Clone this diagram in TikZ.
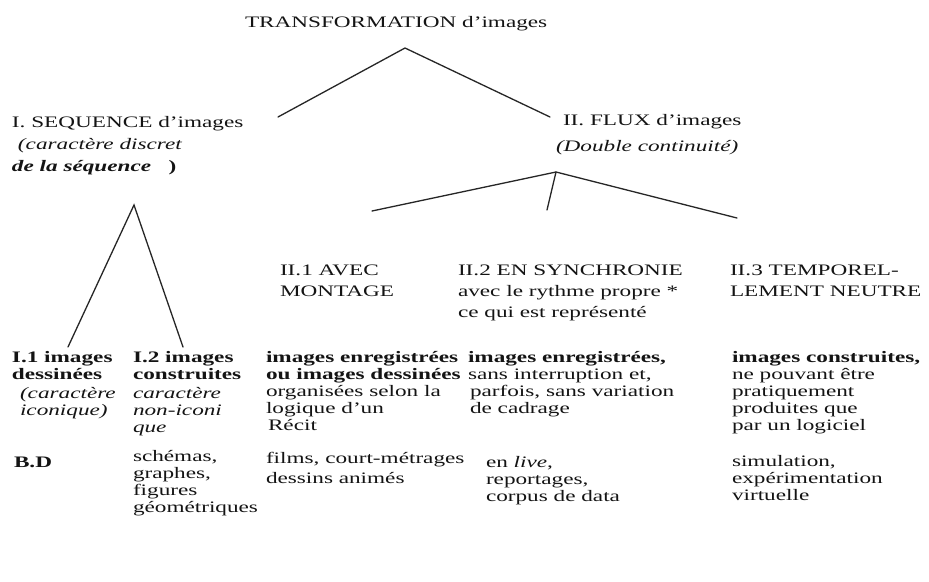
\documentclass[tikz,border=0pt]{standalone}
\usepackage{fontspec}
\setmainfont{Liberation Serif}[FakeStretch=1.45]
\newcommand{\blkA}[1]{\vtop{\baselineskip=17pt\lineskiplimit=-30pt #1}}
\newcommand{\blkB}[1]{\vtop{\baselineskip=21pt\lineskiplimit=-30pt #1}}
\newcommand{\blkC}[1]{\vtop{\baselineskip=20pt\lineskiplimit=-30pt #1}}
\begin{document}
\begin{tikzpicture}[x=1pt,y=-1pt,
  lbl/.style={anchor=base west, inner sep=0pt, outer sep=0pt, text=black!92, font=\fontsize{16}{17}\selectfont},
  conn/.style={draw=black!85, line width=1.3pt, line cap=round}]
\fill[white] (0,0) rectangle (929,581);
\useasboundingbox (0,0) rectangle (929,581);

% top level
\node[lbl] (title) at (245,27) {TRANSFORMATION d'images};
\node[lbl] (seq) at (12,127) {\blkC{\hbox{I. SEQUENCE d'images}\baselineskip=22pt\hbox{\kern6pt\itshape (caractère discret}\hbox{\bfseries\itshape de la séquence \ \ \upshape)}}};
\node[lbl] (flux) at (563,125) {I{}I. FLUX d'images};
\node[lbl] (fluxsub) at (556,151) {\itshape (Double continuité)};

% connector end points
\coordinate (tA) at (405,48);
\coordinate (tL) at (278,117);
\coordinate (tR) at (550,117);
\coordinate (sA) at (134,205);
\coordinate (sL) at (68,347);
\coordinate (sR) at (183,347);
\coordinate (fA) at (556,172);
\coordinate (fL) at (372,211);
\coordinate (fM) at (547,210);
\coordinate (fR) at (737,218);

\draw[conn] (tL) -- (tA) -- (tR);
\draw[conn] (sL) -- (sA) -- (sR);
\draw[conn] (fL) -- (fA) -- (fR);
\draw[conn] (fA) -- (fM);

% second level (flux)
\node[lbl] (f1) at (280,275) {\blkB{\hbox{I{}I.1 AVEC}\hbox{MONTAGE}}};
\node[lbl] (f2) at (458,275) {\blkB{\hbox{I{}I.2 EN SYNCHRONIE}\hbox{avec le rythme propre *}\hbox{ce qui est représenté}}};
\node[lbl] (f3) at (730,275) {\blkB{\hbox{I{}I.3 TEMPOREL-}\hbox{LEMENT NEUTRE}}};

% lower row
\node[lbl] (c1) at (12,362) {\blkA{\hbox{\bfseries I.1 images}\hbox{\bfseries dessinées}}};
\node[lbl] (c1i) at (20,398) {\blkA{\hbox{\itshape (caractère}\hbox{\itshape iconique)}}};
\node[lbl] (c2) at (133,362) {\blkA{\hbox{\bfseries I.2 images}\hbox{\bfseries construites}}};
\node[lbl] (c2i) at (133,398) {\blkA{\hbox{\itshape caractère}\hbox{\itshape non-iconi}\hbox{\itshape que}}};
\node[lbl] (c3) at (266,362) {\blkA{\hbox{\bfseries images enregistrées}\hbox{\bfseries ou images dessinées}\hbox{organisées selon la}\hbox{logique d'un}\hbox{\kern2pt Récit}}};
\node[lbl] (c4) at (468,362) {\blkA{\hbox{\bfseries images enregistrées,}\hbox{sans interruption et,}\hbox{\kern2pt parfois, sans variation}\hbox{\kern2pt de cadrage}}};
\node[lbl] (c5) at (732,362) {\blkA{\hbox{\bfseries images construites,}\hbox{ne pouvant être}\hbox{pratiquement}\hbox{produites que}\hbox{par un logiciel}}};

% bottom row
\node[lbl] (e1) at (14,467) {\bfseries B.D};
\node[lbl] (e2) at (133,461) {\blkA{\hbox{schémas,}\hbox{graphes,}\hbox{figures}\hbox{géométriques}}};
\node[lbl] (e3) at (266,463) {\blkC{\hbox{films, court-métrages}\hbox{dessins animés}}};
\node[lbl] (e4) at (486,467) {\blkA{\hbox{en \itshape live\upshape,}\hbox{reportages,}\hbox{corpus de data}}};
\node[lbl] (e5) at (732,466) {\blkA{\hbox{simulation,}\hbox{expérimentation}\hbox{virtuelle}}};
\end{tikzpicture}
\end{document}
